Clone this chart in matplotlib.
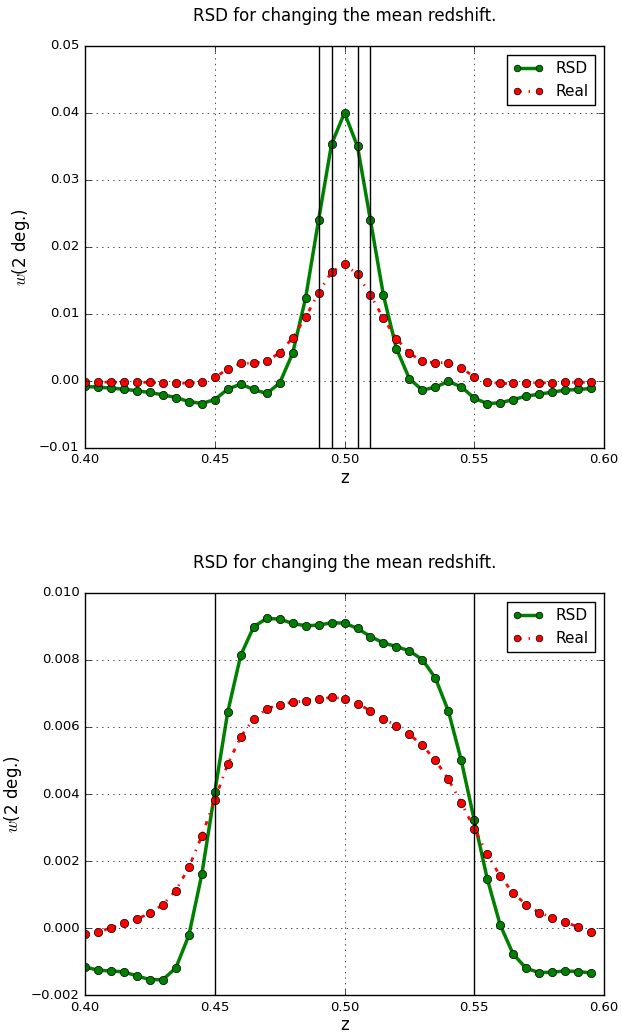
import numpy as np
import matplotlib
matplotlib.use('Agg')
import matplotlib.pyplot as plt

plt.style.use('classic')
plt.rcParams['font.family'] = ['DejaVu Sans']

# redshift grid
z = np.arange(40) * 0.005 + 0.400

# top panel: narrow shell
rsd_top = [-0.00085, -0.00095, -0.0011, -0.00125, -0.0015, -0.00175, -0.0021, -0.0025, -0.0031, -0.0034,
           -0.0028, -0.00125, -0.0005, -0.0013, -0.0019, -0.00035, 0.0041, 0.01235, 0.0240, 0.03535,
           0.0400, 0.0350, 0.02395, 0.01275, 0.0048, 0.0003, -0.0014, -0.00095, -0.0001, -0.0009,
           -0.0026, -0.0034, -0.0033, -0.0028, -0.0023, -0.0020, -0.0017, -0.0014, -0.0013, -0.00115]
real_top = [-0.0002, -0.0002, -0.0002, -0.0002, -0.0002, -0.00025, -0.0003, -0.00035, -0.00035, -0.00015,
            0.0005, 0.00175, 0.0026, 0.00265, 0.0029, 0.0042, 0.0064, 0.0095, 0.01315, 0.01625,
            0.0174, 0.0159, 0.0128, 0.0093, 0.0063, 0.0041, 0.0029, 0.0027, 0.0027, 0.0019,
            0.0006, -0.0002, -0.0004, -0.0004, -0.0003, -0.0003, -0.0003, -0.00025, -0.00025, -0.0002]
lines_top = [0.49, 0.495, 0.505, 0.51]

# bottom panel: wide shell
rsd_bot = [-0.00116, -0.00126, -0.00128, -0.00131, -0.00143, -0.00154, -0.00154, -0.00119, -0.00022, 0.0016,
           0.00406, 0.00645, 0.00814, 0.00899, 0.00924, 0.00922, 0.00909, 0.00902, 0.00904, 0.00911,
           0.0091, 0.00894, 0.0087, 0.00851, 0.0084, 0.00827, 0.00801, 0.00746, 0.00648, 0.0050,
           0.00322, 0.00147, 0.00009, -0.00078, -0.0012, -0.00133, -0.00132, -0.00128, -0.0013, -0.00134]
real_bot = [-0.00017, -0.00011, 0.0, 0.00014, 0.00027, 0.00044, 0.0007, 0.00112, 0.00181, 0.00275,
            0.00383, 0.00489, 0.00571, 0.00624, 0.00654, 0.00667, 0.00674, 0.00678, 0.00684, 0.00688,
            0.00685, 0.0067, 0.00648, 0.00625, 0.00603, 0.00578, 0.00545, 0.00501, 0.00444, 0.00374,
            0.00297, 0.0022, 0.00155, 0.00104, 0.0007, 0.00046, 0.00031, 0.00018, 0.00003, -0.00011]
lines_bot = [0.45, 0.55]

fig = plt.figure(figsize=(6.22, 10.35), dpi=100, facecolor='white')
ax1 = fig.add_axes([0.1367, 0.5674, 0.8344, 0.3882])
ax2 = fig.add_axes([0.1367, 0.0386, 0.8344, 0.3885])

def panel(ax, rsd, real, vl, ylim):
    ax.plot(z, rsd, 'o-', color='g', lw=2.5, ms=6, mec='k', label='RSD')
    ax.plot(z, real, 'o-.', color='r', lw=2, ms=6, mec='k', label='Real')
    for v in vl:
        ax.axvline(v, color='k', lw=1)
    ax.set_xlim(0.40, 0.60)
    ax.set_ylim(*ylim)
    ax.set_xticks([0.40, 0.45, 0.50, 0.55, 0.60])
    ax.grid(True)
    ax.set_xlabel('z', fontsize=12, labelpad=2)
    ax.set_ylabel(r'$w$(2 deg.)', fontsize=12)
    ax.set_title('RSD for changing the mean redshift.', fontsize=12, y=1.045)
    ax.tick_params(labelsize=9.5)
    ax.legend(loc='upper right', numpoints=2, fontsize=11, handlelength=2.0,
              markerscale=0.8, borderaxespad=0.6)

panel(ax1, rsd_top, real_top, lines_top, (-0.01, 0.05))
panel(ax2, rsd_bot, real_bot, lines_bot, (-0.002, 0.010))

fig.savefig('out.png', dpi=100, facecolor='white')
